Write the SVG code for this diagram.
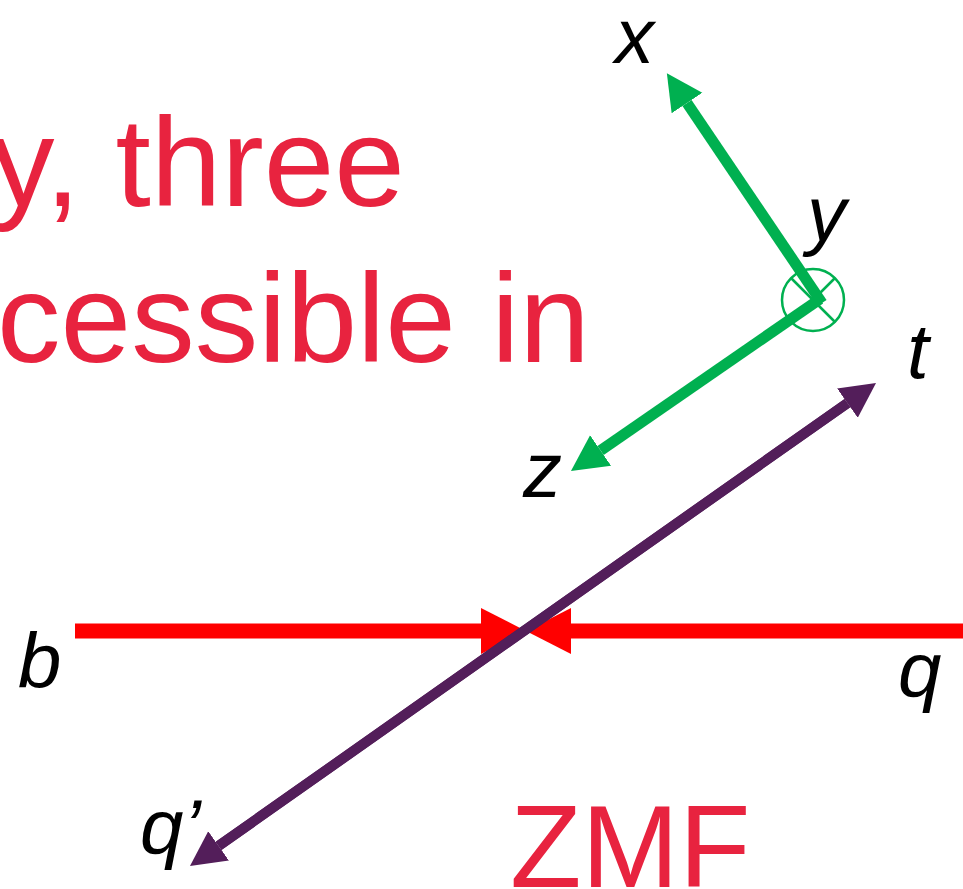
<svg xmlns="http://www.w3.org/2000/svg" width="963" height="889" viewBox="0 0 963 889">
<style>
.big{font-family:"Liberation Sans",Arial,sans-serif;fill:#E8233F;font-size:127px}
.lbl{font-family:"Liberation Sans",Arial,sans-serif;font-style:italic;fill:#000;font-size:78px}
.green{stroke:#00B050;stroke-width:11;fill:none}
.purple{stroke:#531E5A;stroke-width:10;fill:none}
.red{stroke:#FF0000;stroke-width:15;fill:none}
.thin{stroke:#00B050;stroke-width:2.5;fill:none}
</style>
<defs>
<marker id="ag" markerUnits="userSpaceOnUse" markerWidth="40" markerHeight="40" viewBox="0 -20 40 40" refX="0" refY="0" orient="auto"><path d="M0,-18.5 L36,0 L0,18.5 Z" fill="#00B050"/></marker>
<marker id="ap" markerUnits="userSpaceOnUse" markerWidth="40" markerHeight="40" viewBox="0 -20 40 40" refX="0" refY="0" orient="auto"><path d="M0,-18 L35,0 L0,18 Z" fill="#531E5A"/></marker>
<marker id="ar" markerUnits="userSpaceOnUse" markerWidth="50" markerHeight="50" viewBox="0 -25 50 50" refX="0" refY="0" orient="auto"><path d="M0,-23 L45,0 L0,23 Z" fill="#FF0000"/></marker>
</defs>
<g id="title">
<text class="big" x="405" y="206" text-anchor="end">y, three</text>
<text class="big" x="590" y="362" text-anchor="end">cessible in</text>
</g>
<g id="zmf"><text class="big" x="510" y="887" style="font-size:117px">ZMF</text></g>
<g id="connectors">
<line class="red" x1="75" y1="631" x2="481" y2="631" marker-end="url(#ar)"/>
<line class="red" x1="963" y1="631" x2="571" y2="631" marker-end="url(#ar)"/>
<line class="green" x1="822" y1="303" x2="687" y2="103" marker-end="url(#ag)"/>
<line class="green" x1="820" y1="299" x2="600.6" y2="450.5" marker-end="url(#ag)"/>
<line class="purple" x1="218.6" y1="845.9" x2="847.4" y2="403.1" marker-end="url(#ap)"/>
<line class="purple" x1="847.4" y1="403.1" x2="218.6" y2="845.9" marker-end="url(#ap)"/>
</g>
<g id="y-axis">
<circle class="thin" cx="813" cy="300" r="31"/>
<line class="thin" x1="791" y1="278" x2="835" y2="322"/>
<line class="thin" x1="835" y1="278" x2="791" y2="322"/>
</g>
<g id="labels">
<text class="lbl" x="615" y="63">x</text>
<text class="lbl" x="807" y="241">y</text>
<text class="lbl" x="907" y="378">t</text>
<text class="lbl" x="523" y="497">z</text>
<text class="lbl" x="18" y="688">b</text>
<text class="lbl" x="898" y="697">q</text>
<text class="lbl" x="140" y="854">q’</text>
</g>
</svg>
